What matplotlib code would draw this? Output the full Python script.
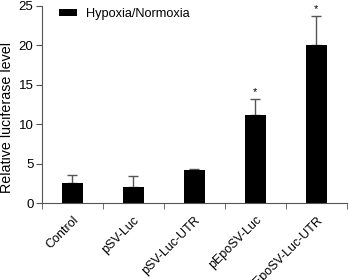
import matplotlib
matplotlib.use("Agg")
import matplotlib.pyplot as plt
import matplotlib.transforms as mtransforms
import numpy as np
from matplotlib.patches import Patch

categories = ["Control", "pSV-Luc", "pSV-Luc-UTR", "pEpoSV-Luc", "pEpoSV-Luc-UTR"]
values = [2.5, 2.05, 4.15, 11.1, 20.1]
errors = [1.0, 1.35, 0.2, 2.1, 3.6]
significant = [False, False, False, True, True]
yticks = [0, 5, 10, 15, 20, 25]

plt.rcParams['font.family'] = ['Liberation Sans', 'DejaVu Sans']
fig = plt.figure(figsize=(3.49, 2.80), dpi=100)
ax = fig.add_axes([0.120, 0.275, 0.874, 0.704])

x = np.arange(len(categories))
ax.bar(x, values, width=0.35, color="black", zorder=2)
ax.errorbar(x, values, yerr=[np.zeros(len(errors)), errors], fmt="none",
            ecolor="#555555", elinewidth=1, capsize=3.5, capthick=1, zorder=1)
for xi, v, e, s in zip(x, values, errors, significant):
    if s:
        ax.text(xi, v + e + 0.2, "*", ha="center", va="bottom", fontsize=8)

ax.set_xlim(-0.5, len(categories) - 0.5)
ax.set_ylim(0, 25)
ax.set_yticks(yticks)
ax.set_xticks(x)
ax.set_xticklabels(categories, rotation=45, ha="right", rotation_mode="anchor", fontsize=9)
offset = mtransforms.ScaledTranslation(5 / 100, 0, fig.dpi_scale_trans)
for lbl in ax.get_xticklabels():
    lbl.set_transform(lbl.get_transform() + offset)
ax.tick_params(axis="x", which="major", length=0, pad=8)
ax.set_xticks(np.arange(-0.5, len(categories)), minor=True)
ax.tick_params(axis="x", which="minor", length=4, direction="out", color="#555555")
ax.tick_params(axis="y", length=4, labelsize=9.5, color="#555555", pad=2)
for s in ["top", "right"]:
    ax.spines[s].set_visible(False)
for s in ["left", "bottom"]:
    ax.spines[s].set_color("#555555")
ax.set_ylabel("Relative luciferase level", fontsize=10.3)
ax.yaxis.set_label_coords(-0.09, 0.434)

ax.legend(handles=[Patch(facecolor="black", label="Hypoxia/Normoxia")],
          loc="center left", bbox_to_anchor=(0.056, 0.957), frameon=False,
          fontsize=9.2, handlelength=1.4, handleheight=0.5, handletextpad=0.7,
          borderpad=0, borderaxespad=0)

fig.savefig("out.png", dpi=100)
